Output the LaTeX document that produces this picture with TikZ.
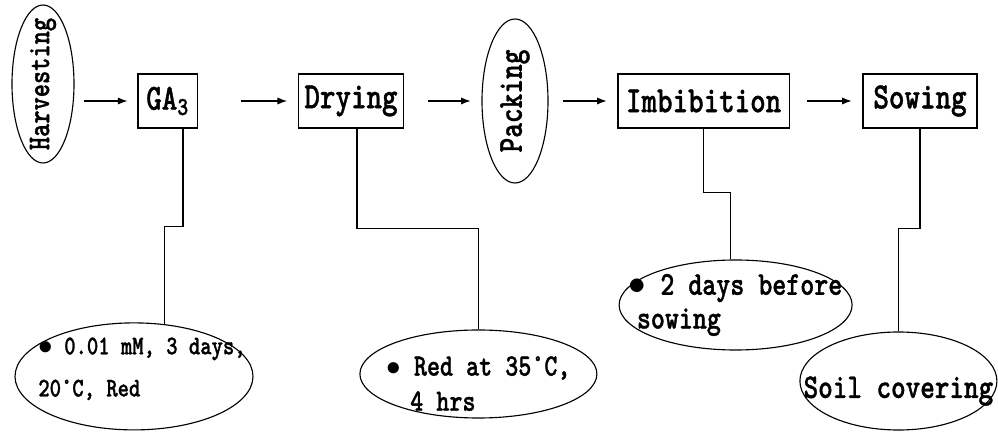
\documentclass[tikz,border=0pt]{standalone}
\usepackage{fontspec}
\setmainfont{lmmonolt10-bold.otf}[FakeStretch=0.8,FakeBold=1]
\usetikzlibrary{shapes,arrows.meta,positioning}
\tikzstyle{stage}=[draw,rectangle,inner xsep=.15cm,inner ysep=0pt,
minimum height=1.35cm,font=\fontsize{26.3}{28}\selectfont]
\tikzstyle{oval}=[draw,ellipse,inner sep=0pt]
\tikzstyle{note}=[align=left,inner sep=0pt]
\tikzstyle{flow}=[-{Latex[length=2.4mm,width=1.8mm]}]

\begin{document}
\begin{tikzpicture}[node distance=4cm, on grid, line width=.8pt]
  \useasboundingbox (0,0) rectangle (24.95,10.8);

  % process row
  \node[oval, minimum width=1.55cm, minimum height=3.95cm,
    label={[rotate=90, font=\fontsize{22.4}{24}\selectfont]center:Harvesting}] (harv) at (1.075,8.7) {};
  \node[stage, minimum width=1.48cm] (ga) at (4.19,8.275) {GA\textsubscript{3}};
  \node[stage, right=4.585cm of ga] (dry) {Drying};
  \node[oval, right=4.1cm of dry, minimum width=1.65cm, minimum height=4.1cm,
    label={[rotate=90, font=\fontsize{24.9}{26}\selectfont]center:Packing}] (pack) {};
  \node[stage, right=4.715cm of pack, minimum width=4.28cm] (imb) {Imbibition};
  \node[stage, right=5.41cm of imb, minimum width=2.85cm] (sow) {Sowing};

  % conditions
  \node[oval, minimum width=5.95cm, minimum height=2.675cm,
    label={[note, xshift=.2cm, yshift=.19cm, font=\fontsize{19.2}{30}\selectfont]center:{$\bullet$ 0.01 mM, 3 days,\\20°C, Red}}] (n1) at (3.35,1.39) {};
  \node[oval, minimum width=5.925cm, minimum height=2.2cm,
    label={[note, yshift=-.24cm, font=\fontsize{22.1}{25}\selectfont]center:{$\bullet$ Red at 35°C,\\\makebox[.6cm]{}4 hrs}}] (n2) at (11.96,1.45) {};
  \node[oval, minimum width=5.825cm, minimum height=2.25cm,
    label={[note, font=\fontsize{23.7}{24}\selectfont]center:{$\bullet$ 2 days before\\\makebox[.2cm]{}sowing}}] (n3) at (18.39,3.175) {};
  \node[oval, minimum width=4.925cm, minimum height=2.45cm,
    label={[note, yshift=-.25cm, font=\fontsize{24.7}{26}\selectfont]center:Soil covering}] (n4) at (22.46,1.275) {};

  \draw[flow, shorten <=.225cm, shorten >=.25cm] (harv.east |- ga.west) -- (ga.west);
  \foreach \a/\b/\s in {ga/dry/1.075cm, dry/pack/.6cm, pack/imb/.35cm, imb/sow/.425cm}
    \draw[flow, shorten <=\s, shorten >=.27cm] (\a) -- (\b);

  \draw ([xshift=.385cm]ga.south) |- ([yshift=2.44cm]n1.60) -- (n1.60);
  \draw ([xshift=.15cm]dry.south) |- ([yshift=2.525cm]n2.north) -- (n2.north);
  \draw (imb.south) |- ([yshift=1.675cm]n3.96) -- (n3.96);
  \draw (sow.south) |- ([yshift=2.575cm]n4.north) -- (n4.north);
\end{tikzpicture}
\end{document}
